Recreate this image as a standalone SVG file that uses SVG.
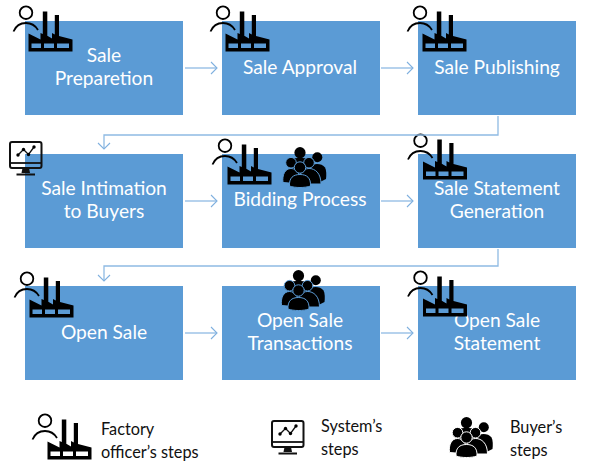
<svg xmlns="http://www.w3.org/2000/svg" width="593" height="474" viewBox="0 0 593 474">
<style>
.box{fill:#5b9bd5}
.t{font-family:Lato,"Open Sans",sans-serif;font-size:19.2px;fill:#fff;text-anchor:middle}
.l{font-family:Lato,"Open Sans",sans-serif;font-size:16.3px;fill:#111}
.c{fill:none;stroke:#8fbae3;stroke-width:1.3}
.o{stroke:currentColor;stroke-width:1}
</style>
<defs>
<marker id="a" markerUnits="userSpaceOnUse" markerWidth="12" markerHeight="14" refX="11" refY="7" orient="auto"><path d="M5 1L11 7L5 13" fill="none" stroke="#7fb0df" stroke-width="1.1"/></marker>
<g id="officer">
<circle cx="26" cy="12.7" r="6.3" fill="none" stroke="#000" stroke-width="1.8"/>
<path d="M13.500 31.500C16 25.500 21 23 26 23C31 23 35 25 38 30" fill="none" stroke="#000" stroke-width="1.8"/>
<path fill-rule="evenodd" d="M28.500 33.500L40.500 39.500V33L42.800 34V11.500H47.300V35.800L52 38.500V33L54.800 34.500V15H59V36L72.500 39.500V51.500H28.500ZM31.500 43.500V48H41V43.500ZM44 43.500V48H54V43.500ZM57 43.500V48H69V43.500Z"/>
</g>
<g id="system">
<rect x="11" y="143" width="31.500" height="26" rx="2" fill="none" stroke="#111" stroke-width="2"/>
<path d="M11 164H42.500" stroke="#111" stroke-width="1.800"/>
<path d="M23.500 169H30L31 174H22.500Z" fill="#111"/>
<path d="M17.500 175.500H36" stroke="#111" stroke-width="2"/>
<path d="M19 156L24.500 150.500L29.500 155.500L35 148" fill="none" stroke="#111" stroke-width="1.300"/>
<circle cx="19" cy="156" r="1.700"/><circle cx="24.500" cy="150.500" r="1.700"/><circle cx="29.500" cy="155.500" r="1.700"/><circle cx="35" cy="148" r="1.700"/>
</g>
<g id="buyers">
<circle cx="300" cy="152.700" r="5.600"/>
<circle cx="317.300" cy="157.300" r="5"/>
<path d="M310 166C314 163 322 163 325 167.500C326.500 170 326.500 175 326 179L318 183Z"/>
<path d="M291 160C296 157 304 157 309 160V175H291Z"/>
<path class="o" d="M298 184C298 174 303 168.500 309 168.500C315 168.500 321 173 321 184Z"/>
<circle class="o" cx="309" cy="162.700" r="5.300"/>
<path class="o" d="M283 182.500C282 175 285 168.500 291 168.500C297 168.500 301 175 301 184Z"/>
<circle class="o" cx="291" cy="162.700" r="5.300"/>
<path class="o" d="M289.500 186C289 178 293 174.500 300 174.500C307 174.500 311 178 310.500 186C305 188 295 188 289.500 186Z"/>
<circle class="o" cx="300" cy="167.500" r="5.700"/>
</g>
</defs>
<g id="n1"><rect class="box" x="25" y="21" width="158" height="94"/><text class="t" x="104" y="62">Sale</text><text class="t" x="104" y="85">Preparetion</text><use href="#officer"/></g>
<g id="n2"><rect class="box" x="222" y="21" width="158" height="94"/><text class="t" x="300" y="74">Sale Approval</text><use href="#officer" x="197"/></g>
<g id="n3"><rect class="box" x="418" y="21" width="158" height="94"/><text class="t" x="497" y="74">Sale Publishing</text><use href="#officer" x="394"/></g>
<g id="n4"><rect class="box" x="25" y="154" width="158" height="94"/><text class="t" x="104" y="195">Sale Intimation</text><text class="t" x="104" y="218">to Buyers</text><use href="#system" x="-1" y="-1"/></g>
<g id="n5"><rect class="box" x="222" y="154" width="158" height="94"/><text class="t" x="300" y="206">Bidding Process</text><use href="#officer" x="199" y="133"/><use href="#buyers" color="#5b9bd5"/></g>
<g id="n6"><rect class="box" x="418" y="154" width="158" height="94"/><text class="t" x="497" y="195">Sale Statement</text><text class="t" x="497" y="218">Generation</text><use href="#officer" x="394.500" y="128"/></g>
<g id="n7"><rect class="box" x="25" y="286" width="158" height="94"/><text class="t" x="104" y="339">Open Sale</text><use href="#officer" x="1" y="266"/></g>
<g id="n8"><rect class="box" x="222" y="286" width="158" height="94"/><text class="t" x="300" y="327">Open Sale</text><text class="t" x="300" y="350">Transactions</text><use href="#buyers" color="#5b9bd5" x="-1.500" y="123"/></g>
<g id="n9"><rect class="box" x="418" y="286" width="158" height="94"/><text class="t" x="497" y="327">Open Sale</text><text class="t" x="497" y="350">Statement</text><use href="#officer" x="394.500" y="265"/></g>
<g id="connectors">
<path class="c" marker-end="url(#a)" d="M185 68H217"/>
<path class="c" marker-end="url(#a)" d="M381 68H413"/>
<path class="c" marker-end="url(#a)" d="M185 201H217"/>
<path class="c" marker-end="url(#a)" d="M381 201H413"/>
<path class="c" marker-end="url(#a)" d="M185 333H217"/>
<path class="c" marker-end="url(#a)" d="M381 333H413"/>
<path class="c" marker-end="url(#a)" d="M498 116V135H104V149"/>
<path class="c" marker-end="url(#a)" d="M498 249V266H104V281"/>
</g>
<g id="legend-officer"><use href="#officer" x="19" y="408"/><text class="l" x="101" y="435">Factory</text><text class="l" x="101" y="458">officer’s steps</text></g>
<g id="legend-system"><use href="#system" x="261" y="278"/><text class="l" x="321" y="432">System’s</text><text class="l" x="321" y="455">steps</text></g>
<g id="legend-buyers"><use href="#buyers" color="#fff" x="166.500" y="270"/><text class="l" x="510" y="433">Buyer’s</text><text class="l" x="510" y="456">steps</text></g>
</svg>
